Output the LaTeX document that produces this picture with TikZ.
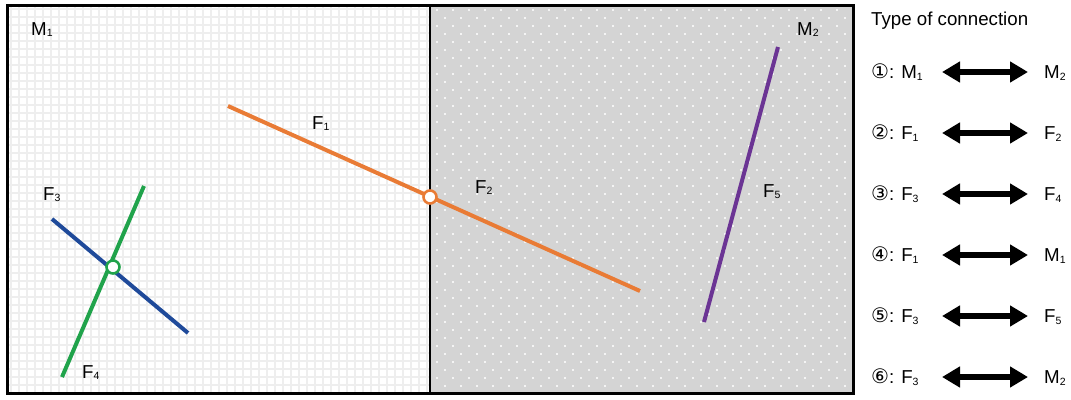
\documentclass[tikz,border=0pt]{standalone}
\usepackage{fontspec}
\setmainfont{Liberation Sans}
\newfontfamily\circfont{DejaVu Sans}
\usetikzlibrary{arrows.meta}
\definecolor{forange}{HTML}{E97B35}
\definecolor{fblue}{HTML}{1F4A9A}
\definecolor{fgreen}{HTML}{20A34B}
\definecolor{fpurple}{HTML}{6B3494}
\definecolor{panelgray}{HTML}{D4D4D4}
\definecolor{gridgray}{HTML}{EEEEEE}
\definecolor{dotwhite}{HTML}{F4F4F4}
\newcommand\sbs[1]{\raisebox{-1.5pt}{\fontsize{10.5}{11}\selectfont #1}}
\newcommand\cnum[1]{{\circfont\fontsize{20}{22}\selectfont #1}}
\begin{document}
\begin{tikzpicture}[x=1pt,y=-1pt,
  lbl/.style={anchor=base west,inner sep=0pt,font=\fontsize{18.7}{22}\selectfont},
  fracture/.style={line width=4pt},
  junction/.style={circle,draw,fill=white,line width=2.6pt,minimum size=13pt,inner sep=0pt},
  biarrow/.style={line width=6.5pt,{Triangle[length=18pt,width=20pt]}-{Triangle[length=18pt,width=20pt]}},
  gridline/.style={gridgray,line width=1.5pt}]
\useasboundingbox (0,0) rectangle (1071,399);
% left panel: white with light grid
\fill[white] (7,5) rectangle (430,393);
\foreach \x in {11,19,...,427} \draw[gridline] (\x,5) -- (\x,393);
\foreach \y in {9,17,...,391} \draw[gridline] (7,\y) -- (430,\y);
% right panel: gray with staggered dots
\fill[panelgray] (430,5) rectangle (853,393);
\foreach \x in {437,453,...,851} \foreach \y in {10,26,...,392} \fill[dotwhite] (\x-1,\y-1) rectangle (\x+1,\y+1);
\foreach \x in {445,461,...,851} \foreach \y in {18,34,...,392} \fill[dotwhite] (\x-1,\y-1) rectangle (\x+1,\y+1);
% frame
\draw[line width=2.8pt] (430,5) -- (430,393);
\draw[line width=3pt] (7,5) rectangle (853,393);
% fractures
\coordinate (o1) at (228,106); \coordinate (o2) at (640,291);
\draw[fracture,forange] (o1) -- (o2);
\coordinate (b1) at (52,219); \coordinate (b2) at (188,333);
\draw[fracture,fblue] (b1) -- (b2);
\coordinate (g1) at (144,186); \coordinate (g2) at (62,377);
\draw[fracture,fgreen] (g1) -- (g2);
\coordinate (p1) at (778,47); \coordinate (p2) at (704,322);
\draw[fracture,fpurple] (p1) -- (p2);
\node[junction,draw=forange] (j1) at (430,197) {};
\node[junction,draw=fgreen] (j2) at (113,267) {};
% labels
\node[lbl] (m1) at (31,35) {M\sbs{1}};
\node[lbl] (m2) at (797,35) {M\sbs{2}};
\node[lbl] (f1) at (312,129) {F\sbs{1}};
\node[lbl] (f2) at (475,193) {F\sbs{2}};
\node[lbl] (f3) at (43,200) {F\sbs{3}};
\node[lbl] (f4) at (82,378) {F\sbs{4}};
\node[lbl] (f5) at (763,197) {F\sbs{5}};
% legend
\node[lbl] (title) at (871,25) {Type of connection};
\foreach \i/\n/\a/\b [evaluate=\i as \yy using 72+61*(\i-1)] in
  {1/①/M\sbs{1}/M\sbs{2}, 2/②/F\sbs{1}/F\sbs{2}, 3/③/F\sbs{3}/F\sbs{4},
   4/④/F\sbs{1}/M\sbs{1}, 5/⑤/F\sbs{3}/F\sbs{5}, 6/⑥/F\sbs{3}/M\sbs{2}} {
  \node[lbl] (l\i) at (871,\yy+6.5) {\cnum{\n}: \a};
  \node[lbl] (r\i) at (1044,\yy+6.5) {\b};
  \coordinate (la\i) at (942,\yy);
  \coordinate (ra\i) at (1028,\yy);
  \draw[biarrow] (la\i) -- (ra\i);
}
\end{tikzpicture}
\end{document}
